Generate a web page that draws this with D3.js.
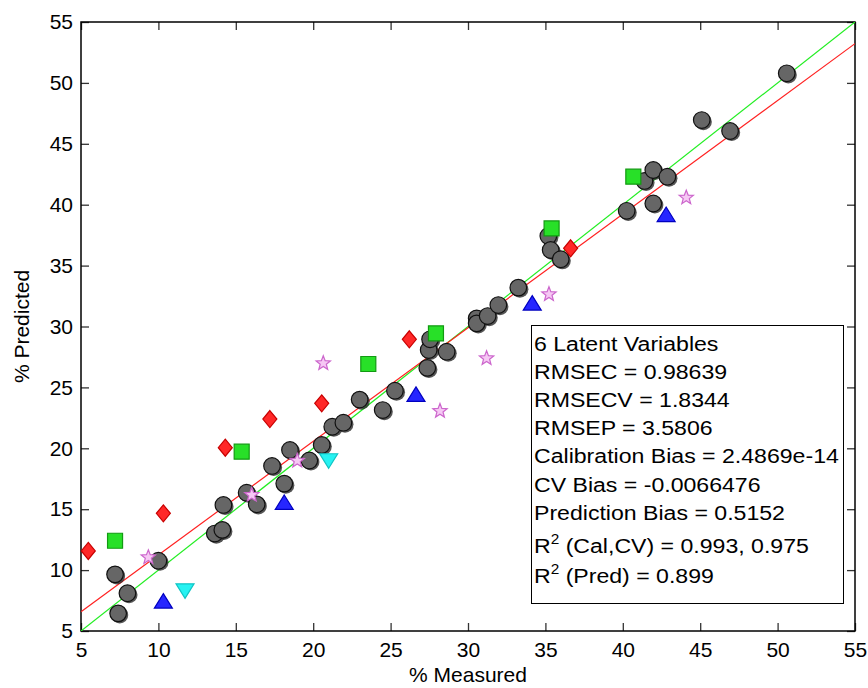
<!doctype html>
<html>
<head>
<meta charset="UTF-8">
<title>measured vs predicted</title>
<script src="https://cdn.jsdelivr.net/npm/d3@7"></script>
<style>
    body { margin: 0; background: #fff; }
    text { font-family: "Liberation Sans", Arial, sans-serif; fill: #000; }
</style>
</head>
<body>
<svg width="868" height="688"></svg>
<script>
    // calibration samples (grey circles)
    let calX = [7.2, 8.0, 7.4, 10.0, 13.64, 14.13, 14.2, 15.7, 16.35, 17.34, 18.13, 18.5, 19.75, 20.55,
        21.23, 21.95, 23.0, 24.49, 25.28, 27.37, 27.46, 27.55, 28.62, 30.56, 30.56, 31.27, 31.96, 33.25,
        35.19, 35.34, 35.99, 40.25, 41.4, 41.97, 42.88, 41.97, 45.1, 46.93, 50.59];
    let calY = [9.65, 8.1, 6.45, 10.77, 13.0, 13.3, 15.35, 16.35, 15.4, 18.55, 17.1, 19.86, 19.0, 20.27,
        21.77, 22.1, 24.0, 23.14, 24.73, 26.6, 28.07, 28.95, 27.93, 30.67, 30.26, 30.86, 31.76, 33.19,
        37.43, 36.28, 35.52, 39.5, 41.95, 42.85, 42.3, 40.1, 46.95, 46.05, 50.79];

    // other groups
    let diamondX = [5.47, 10.32, 14.32, 17.2, 20.55, 26.21, 36.63];
    let diamondY = [11.57, 14.66, 20.05, 22.4, 23.69, 28.95, 36.42];
    let squareX = [7.2, 15.38, 23.56, 27.93, 35.4, 40.68];
    let squareY = [12.41, 19.72, 26.92, 29.44, 38.05, 42.3];
    let triUpX = [10.32, 18.13, 26.64, 34.15, 42.8];
    let triUpY = [7.33, 15.43, 24.3, 31.8, 39.07];
    let triDownX = [11.72, 21.0];
    let triDownY = [8.42, 19.1];
    let starX = [9.35, 16.03, 18.97, 20.65, 28.19, 31.2, 35.23, 44.1];
    let starY = [11.05, 16.17, 18.98, 26.98, 23.06, 27.39, 32.65, 40.58];

    // fit line (red), identity is y = x (green)
    let fitSlope = 0.933, fitIntercept = 1.91;

    let ticks = [5, 10, 15, 20, 25, 30, 35, 40, 45, 50, 55];
    let statLines = [
        "6 Latent Variables",
        "RMSEC = 0.98639",
        "RMSECV = 1.8344",
        "RMSEP = 3.5806",
        "Calibration Bias = 2.4869e-14",
        "CV Bias = -0.0066476",
        "Prediction Bias = 0.5152"
    ];
    let r2Lines = [" (Cal,CV) = 0.993, 0.975", " (Pred) = 0.899"];

    let grid = {left: 81, right: 13, top: 22, bottom: 57};
    let svg = d3.select("svg");
    let width = +svg.attr("width"), height = +svg.attr("height");
    let w = width - grid.left - grid.right, h = height - grid.top - grid.bottom;
    let g = svg.append("g").attr("transform", "translate(" + grid.left + "," + grid.top + ")");

    let x = d3.scaleLinear().domain([5, 55]).range([0, w]);
    let y = d3.scaleLinear().domain([5, 55]).range([h, 0]);

    svg.append("clipPath").attr("id", "clip").append("rect").attr("width", w).attr("height", h);

    // axes, ticks pointing inward
    function styleAxis(sel) {
        sel.select(".domain").remove();
        sel.selectAll(".tick line").attr("stroke", "#333").attr("stroke-width", 1.3);
        sel.selectAll("text").style("font-size", "21px").attr("fill", "#000");
    }
    g.append("g").attr("transform", "translate(0," + h + ")")
        .call(d3.axisBottom(x).tickValues(ticks).tickSizeInner(-8).tickSizeOuter(0).tickPadding(11).tickFormat(d3.format("d")))
        .call(styleAxis);
    g.append("g")
        .call(d3.axisLeft(y).tickValues(ticks).tickSizeInner(-8).tickSizeOuter(0).tickPadding(8).tickFormat(d3.format("d")))
        .call(styleAxis);
    g.append("g")
        .call(d3.axisTop(x).tickValues(ticks).tickSizeInner(-8).tickSizeOuter(0).tickFormat(""))
        .call(styleAxis);
    g.append("g").attr("transform", "translate(" + w + ",0)")
        .call(d3.axisRight(y).tickValues(ticks).tickSizeInner(-8).tickSizeOuter(0).tickFormat(""))
        .call(styleAxis);

    g.append("rect").attr("width", w).attr("height", h)
        .attr("fill", "none").attr("stroke", "#000").attr("stroke-width", 1.5);

    // lines
    let lines = g.append("g").attr("clip-path", "url(#clip)");
    lines.append("line")
        .attr("x1", x(5)).attr("y1", y(5)).attr("x2", x(55)).attr("y2", y(55))
        .attr("stroke", "#22ee22").attr("stroke-width", 1.2);
    lines.append("line")
        .attr("x1", x(5)).attr("y1", y(fitIntercept + fitSlope * 5))
        .attr("x2", x(55)).attr("y2", y(fitIntercept + fitSlope * 55))
        .attr("stroke", "#ff2020").attr("stroke-width", 1.2);

    // marker shapes around 0,0
    let shapes = {
        diamond: "M0,-8.5L7,0L0,8.5L-7,0Z",
        square: "M-7.5,-7.5H7.5V7.5H-7.5Z",
        up: "M0,-9L9,5.5H-9Z",
        down: "M0,9L9,-5.5H-9Z",
        star: (function () {
            let p = [];
            for (let i = 0; i < 10; i++) {
                let r = i % 2 === 0 ? 7.5 : 3.2;
                let a = -Math.PI / 2 + i * Math.PI / 5;
                p.push([r * Math.cos(a), r * Math.sin(a)]);
            }
            return "M" + p.join("L") + "Z";
        })()
    };

    function drawMarkers(xs, ys, shape, fill, stroke) {
        g.append("g").selectAll("path").data(xs).enter().append("path")
            .attr("d", shapes[shape])
            .attr("transform", (d, i) => "translate(" + x(d) + "," + y(ys[i]) + ")")
            .attr("fill", fill).attr("stroke", stroke).attr("stroke-width", 1.2);
    }

    // grey circles with a little shadow
    let cg = g.append("g");
    cg.selectAll(".shadow").data(calX).enter().append("circle")
        .attr("cx", d => x(d) + 1.6).attr("cy", (d, i) => y(calY[i]) + 1.6)
        .attr("r", 8.5).attr("fill", "#2a2a2a").attr("opacity", 0.8);
    cg.selectAll(".dot").data(calX).enter().append("circle")
        .attr("cx", d => x(d)).attr("cy", (d, i) => y(calY[i]))
        .attr("r", 8.3).attr("fill", "#666").attr("stroke", "#111").attr("stroke-width", 1.2);

    drawMarkers(diamondX, diamondY, "diamond", "#ff2828", "#c80000");
    drawMarkers(squareX, squareY, "square", "#28e028", "#129a12");
    drawMarkers(triUpX, triUpY, "up", "#2626ff", "#0000c0");
    drawMarkers(triDownX, triDownY, "down", "#26f2f2", "#10c4c4");
    drawMarkers(starX, starY, "star", "#f6c8f4", "#cc66cc");

    // stats box
    svg.append("rect").attr("x", 531.5).attr("y", 325.5).attr("width", 312).attr("height", 278)
        .attr("fill", "#fff").attr("stroke", "#000").attr("stroke-width", 1);
    let box = svg.append("g").attr("transform", "translate(534,0) scale(1.1,1)");
    let base = [351, 379, 407, 435.5, 463.5, 492, 520];
    statLines.forEach((t, i) => {
        box.append("text").attr("x", 0).attr("y", base[i]).style("font-size", "21px").text(t);
    });
    let r2Base = [553.5, 583];
    r2Lines.forEach((t, i) => {
        let tx = box.append("text").attr("x", 0).attr("y", r2Base[i]).style("font-size", "21px");
        tx.append("tspan").text("R");
        tx.append("tspan").attr("dy", -9).style("font-size", "14px").text("2");
        tx.append("tspan").attr("dy", 9).text(t);
    });

    // axis titles
    svg.append("text").attr("x", grid.left + w / 2).attr("y", 682)
        .attr("text-anchor", "middle").style("font-size", "21px").text("% Measured");
    svg.append("text").attr("transform", "translate(29," + (grid.top + h / 2) + ") rotate(-90)")
        .attr("text-anchor", "middle").style("font-size", "21px").text("% Predicted");
</script>
</body>
</html>
